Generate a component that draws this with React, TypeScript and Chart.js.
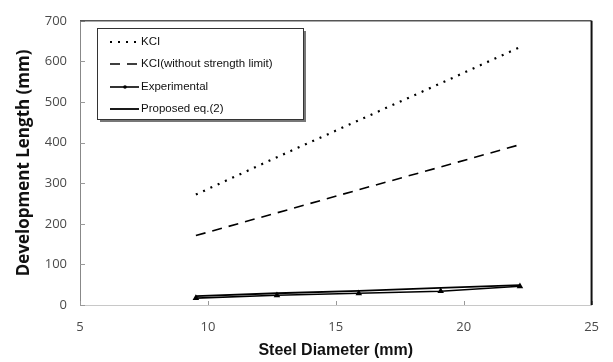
import React, { useEffect, useRef } from "react";
import { Chart, registerables } from "chart.js";

Chart.register(...registerables);

const diameters = [9.53, 12.7, 15.9, 19.1, 22.2];
const kci = [272, 364, 455, 546, 635];
const kciNoLimit = [171, 227, 284, 340, 395];
const experimental = [17, 24, 29, 34, 46];
const proposed = [22, 29, 35, 42, 49];
const seriesLabels = ["KCI", "KCI(without strength limit)", "Experimental", "Proposed eq.(2)"];

const toXY = (ys: number[]) => ys.map((y, i) => ({ x: diameters[i], y }));

const frameAndTicks = {
  id: "frameAndTicks",
  afterDraw(chart: any) {
    const { ctx, chartArea: a, scales } = chart;
    ctx.save();
    ctx.strokeStyle = "#999";
    ctx.lineWidth = 1;
    scales.y.ticks.forEach((t: any) => {
      const py = Math.round(scales.y.getPixelForValue(t.value)) + 0.5;
      ctx.beginPath();
      ctx.moveTo(a.left, py);
      ctx.lineTo(a.left + 5, py);
      ctx.stroke();
    });
    scales.x.ticks.forEach((t: any) => {
      const px = Math.round(scales.x.getPixelForValue(t.value)) + 0.5;
      ctx.beginPath();
      ctx.moveTo(px, a.bottom);
      ctx.lineTo(px, a.bottom - 4);
      ctx.stroke();
    });
    ctx.strokeStyle = "#555";
    ctx.lineWidth = 1.5;
    ctx.beginPath();
    ctx.moveTo(a.left, a.top);
    ctx.lineTo(a.right, a.top);
    ctx.stroke();
    ctx.strokeStyle = "#111";
    ctx.lineWidth = 2;
    ctx.beginPath();
    ctx.moveTo(a.right, a.top);
    ctx.lineTo(a.right, a.bottom);
    ctx.stroke();
    ctx.restore();
  },
};

const insideLegend = {
  id: "insideLegend",
  afterDraw(chart: any) {
    const { ctx } = chart;
    const bx = 97, by = 28, bw = 206, bh = 91;
    ctx.save();
    ctx.fillStyle = "#777";
    ctx.fillRect(bx + 3, by + 3, bw, bh);
    ctx.fillStyle = "#fff";
    ctx.fillRect(bx, by, bw, bh);
    ctx.strokeStyle = "#333";
    ctx.lineWidth = 1;
    ctx.strokeRect(bx + 0.5, by + 0.5, bw, bh);
    const rowsY = [42, 64, 87, 109];
    ctx.font = "11.5px 'Liberation Sans', Arial, sans-serif";
    ctx.textBaseline = "middle";
    chart.data.datasets.forEach((ds: any, i: number) => {
      const y = rowsY[i];
      ctx.strokeStyle = "#000";
      ctx.lineWidth = ds.borderWidth;
      ctx.setLineDash(ds.borderDash || []);
      ctx.beginPath();
      ctx.moveTo(110, y);
      ctx.lineTo(139, y);
      ctx.stroke();
      ctx.setLineDash([]);
      if (ds.pointRadius > 0) {
        ctx.fillStyle = "#000";
        ctx.beginPath();
        ctx.arc(125, y, 1.8, 0, Math.PI * 2);
        ctx.fill();
      }
      ctx.fillStyle = "#111";
      ctx.fillText(ds.label, 141, y);
    });
    ctx.restore();
  },
};

export default function App() {
  const ref = useRef<HTMLCanvasElement>(null);
  useEffect(() => {
    if (!ref.current) return;
    const tickFont = { family: "'Open Sans', sans-serif", size: 13 };
    const chart = new Chart(ref.current, {
      type: "line",
      data: {
        datasets: [
          {
            label: seriesLabels[0],
            data: toXY(kci),
            borderColor: "#000",
            borderWidth: 2.2,
            borderDash: [2, 6],
            pointRadius: 0,
          },
          {
            label: seriesLabels[1],
            data: toXY(kciNoLimit),
            borderColor: "#000",
            borderWidth: 1.6,
            borderDash: [10, 7],
            pointRadius: 0,
          },
          {
            label: seriesLabels[2],
            data: toXY(experimental),
            borderColor: "#000",
            backgroundColor: "#000",
            borderWidth: 1.6,
            pointStyle: "triangle",
            pointRadius: 2.2,
          },
          {
            label: seriesLabels[3],
            data: toXY(proposed),
            borderColor: "#000",
            borderWidth: 1.8,
            pointRadius: 0,
          },
        ] as any,
      },
      options: {
        animation: false,
        responsive: false,
        devicePixelRatio: 1,
        layout: { padding: { top: 14, right: 18, left: 0, bottom: 0 } },
        plugins: { legend: { display: false }, tooltip: { enabled: false } },
        scales: {
          x: {
            type: "linear",
            min: 5,
            max: 25,
            ticks: { stepSize: 5, padding: 14, color: "#4a4a4a", font: tickFont },
            grid: { display: false, drawTicks: false },
            border: { display: true, color: "#c8c8c8", width: 1 },
            title: {
              display: true,
              text: "Steel Diameter (mm)",
              color: "#111",
              font: { family: "'Liberation Sans', Arial, sans-serif", size: 16, weight: "bold" },
              padding: { top: 0, bottom: 2 },
            },
            afterFit: (s: any) => { s.height = 57; },
          },
          y: {
            min: 0,
            max: 700,
            ticks: { stepSize: 100, padding: 13, color: "#4a4a4a", font: tickFont },
            grid: { display: false, drawTicks: false },
            border: { display: true, color: "#888", width: 1 },
            title: {
              display: true,
              text: "Development Length (mm)",
              color: "#111",
              font: { family: "'Open Sans', sans-serif", size: 17, weight: "bold" },
              padding: { top: 14, bottom: 0 },
            },
            afterFit: (s: any) => { s.width = 80; },
          },
        },
      } as any,
      plugins: [frameAndTicks, insideLegend],
    });
    return () => chart.destroy();
  }, []);
  return (
    <div style={{ position: "fixed", left: 0, top: 0, width: 613, height: 362, background: "#fff" }}>
      <canvas ref={ref} width={613} height={362} style={{ display: "block" }} />
    </div>
  );
}
